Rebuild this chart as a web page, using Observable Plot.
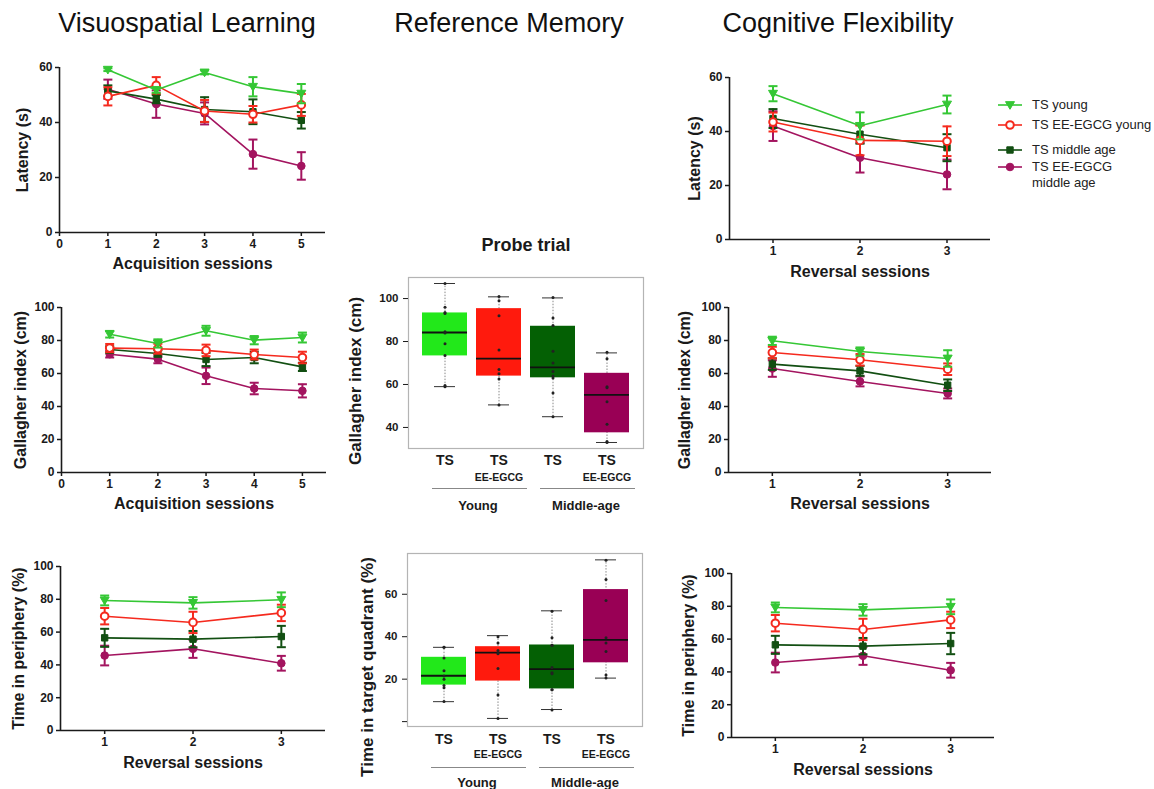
<!DOCTYPE html>
<html><head><meta charset="utf-8">
<script src="https://cdn.jsdelivr.net/npm/d3@7"></script>
<script src="https://cdn.jsdelivr.net/npm/@observablehq/plot@0.6"></script>
<style>
body{margin:0;background:#fff;font-family:"Liberation Sans",Arial,sans-serif;}
#root{position:relative;width:1154px;height:789px;overflow:hidden;background:#fff;}
.title{position:absolute;font-size:27px;line-height:27px;color:#111;transform:translateX(-50%);white-space:nowrap;}
.leg{position:absolute;font-size:13px;line-height:15px;color:#222;white-space:nowrap;}
</style></head><body><div id="root"></div>
<script>
// ---------- data ----------
const seriesNames = ["TS young", "TS EE-EGCG young", "TS middle age", "TS EE-EGCG middle age"];
const seriesColors = ["#35c735", "#f52a1e", "#124f12", "#a3145f"];
const acqSessions = [1, 2, 3, 4, 5];
const revSessions = [1, 2, 3];

// Visuospatial learning – latency (s), acquisition sessions
const latAcqMean = [[59.2, 51.8, 58.2, 53.0, 50.5], [49.5, 53.5, 44.2, 43.0, 46.4], [51.5, 48.5, 44.7, 43.9, 40.8], [52.1, 46.7, 43.3, 28.5, 24.2]];
const latAcqSem = [[0.5, 1.0, 0.7, 3.5, 3.5], [3.3, 3.0, 4.0, 3.0, 4.0], [2.0, 1.5, 4.5, 4.5, 3.0], [3.5, 5.0, 4.0, 5.3, 5.0]];
// Visuospatial learning – Gallagher index (cm)
const galAcqMean = [[83.8, 78.2, 85.9, 80.2, 81.8], [75.4, 75.0, 74.0, 71.5, 69.7], [74.5, 72.1, 68.5, 69.7, 64.0], [71.7, 68.7, 58.6, 50.9, 49.5]];
const galAcqSem = [[2.0, 2.5, 3.0, 2.5, 3.0], [2.5, 3.0, 3.5, 3.0, 3.5], [2.0, 2.0, 4.0, 3.5, 2.5], [2.0, 2.5, 5.0, 3.5, 4.0]];
// Time in periphery (%)
const perMean = [[79.3, 77.8, 79.7], [69.7, 65.9, 71.7], [56.5, 55.7, 57.3], [45.7, 49.8, 41.0]];
const perSem = [[3.0, 3.5, 4.5], [5.0, 6.5, 5.0], [5.5, 5.0, 6.5], [6.0, 5.5, 4.5]];
// Cognitive flexibility – latency (s)
const latRevMean = [[54.0, 42.1, 50.0], [43.5, 36.7, 36.4], [44.8, 39.0, 34.0], [42.0, 30.3, 24.1]];
const latRevSem = [[2.8, 5.0, 3.3], [3.5, 5.5, 5.5], [3.5, 3.5, 5.0], [5.5, 5.5, 5.5]];
// Cognitive flexibility – Gallagher index (cm)
const galRevMean = [[79.8, 73.3, 69.1], [72.7, 68.3, 62.6], [65.7, 61.6, 52.9], [63.0, 55.2, 47.9]];
const galRevSem = [[2.5, 2.5, 5.0], [3.5, 3.5, 3.5], [3.5, 3.0, 3.5], [5.0, 3.0, 3.0]];

// Reference memory – probe trial box plots
const boxGroups = ["TS young", "TS EE-EGCG young", "TS middle-age", "TS EE-EGCG middle-age"];
const boxColors = ["#22e81a", "#ff1a0d", "#046004", "#990055"];
const boxTopLabels = ["TS", "TS", "TS", "TS"];
const boxSubLabels = ["", "EE-EGCG", "", "EE-EGCG"];
const ageGroups = ["Young", "Middle-age"];

const galMin = [59.0, 50.5, 45.0, 33.0];
const galQ1 = [73.3, 63.9, 63.1, 37.5];
const galMed = [84.2, 72.0, 68.0, 55.2];
const galQ3 = [93.3, 95.3, 87.1, 65.2];
const galMax = [107.0, 100.8, 100.3, 74.7];
const galPoints = [[107, 96, 93.5, 93, 84.5, 84, 79, 73.5, 59.5, 59], [101, 99, 92, 76, 67, 65, 62.5, 50.5], [100.5, 91, 87.5, 75.5, 70, 66, 64, 63, 56, 45], [75, 72, 59, 58.5, 52, 41.5, 33.5, 33]];

const tqMin = [9.4, 1.5, 5.7, 20.5];
const tqQ1 = [17.2, 19.1, 15.4, 27.7];
const tqMed = [21.6, 32.5, 24.7, 38.5];
const tqQ3 = [30.3, 35.3, 36.1, 62.2];
const tqMax = [35.0, 40.5, 52.2, 76.2];
const tqPoints = [[35, 35, 30, 24, 21.5, 20, 17, 16, 9.5], [40, 37, 33.5, 32.5, 32, 25, 12.5, 1.5], [52, 39.5, 36, 36, 25.5, 23, 22.5, 15, 15, 5.5], [76, 67, 57, 39.5, 37, 33, 22, 20.5]];

// ---------- helpers ----------
const FONT = '"Liberation Sans", Arial, sans-serif';
const INK = "#1a1a1a";
const root = document.getElementById("root");
function place(node, left, top) {
  node.style.position = "absolute";
  node.style.left = left + "px";
  node.style.top = top + "px";
  root.appendChild(node);
}
const capSymbol = {draw(ctx, size) { const r = Math.sqrt(size / Math.PI); ctx.moveTo(-r, 0); ctx.lineTo(r, 0); }};
const triDown = {draw(ctx, size) { const r = Math.sqrt(size / Math.PI); ctx.moveTo(-r, -r * 0.75); ctx.lineTo(r, -r * 0.75); ctx.lineTo(0, r * 0.95); ctx.closePath(); }};
const seriesSymbols = [triDown, "circle", "square", "circle"];
const seriesFills = [seriesColors[0], "white", seriesColors[2], seriesColors[3]];
const seriesR = [4.5, 3.8, 3.6, 3.8];
const drawOrder = [3, 2, 1, 0];

function linePanel(c) {
  const rows = [];
  c.means.forEach((arr, i) => arr.forEach((m, j) => rows.push({s: i, x: c.sessions[j], m, lo: m - c.sems[i][j], hi: m + c.sems[i][j]})));
  const marks = [
    Plot.ruleY([c.yDomain[0]], {x1: c.xDomain[0], x2: c.xDomain[1], stroke: INK, strokeWidth: 1.6}),
    Plot.ruleX([c.xDomain[0]], {y1: c.yDomain[0], y2: c.yDomain[1], stroke: INK, strokeWidth: 1.6}),
    Plot.axisX({ticks: c.xTicks, tickSize: 4, tickPadding: 3, fontSize: 12, fontWeight: "bold", strokeWidth: 1.5, stroke: INK, fill: INK, tickFormat: d => String(d), label: null}),
    Plot.axisY({ticks: c.yTicks, tickSize: 4, tickPadding: 3, fontSize: 12, fontWeight: "bold", strokeWidth: 1.5, stroke: INK, fill: INK, tickFormat: d => String(d), label: null})
  ];
  for (const s of drawOrder) {
    const d = rows.filter(r => r.s === s);
    const col = seriesColors[s];
    marks.push(
      Plot.ruleX(d, {x: "x", y1: "lo", y2: "hi", stroke: col, strokeWidth: 2}),
      Plot.dot(d, {x: "x", y: "lo", symbol: capSymbol, r: 4.5, stroke: col, strokeWidth: 2, fill: "none"}),
      Plot.dot(d, {x: "x", y: "hi", symbol: capSymbol, r: 4.5, stroke: col, strokeWidth: 2, fill: "none"}),
      Plot.line(d, {x: "x", y: "m", stroke: col, strokeWidth: 1.6}),
      Plot.dot(d, {x: "x", y: "m", symbol: seriesSymbols[s], r: seriesR[s], fill: seriesFills[s], stroke: col, strokeWidth: s === 1 ? 2 : 1})
    );
  }
  marks.push(
    Plot.text([c.xLabel], {text: d => d, frameAnchor: "bottom", dy: c.xLabelDy, fontSize: 16, fontWeight: "bold", fill: INK, lineAnchor: "middle", textAnchor: "middle"}),
    Plot.text([c.yLabel], {text: d => d, frameAnchor: "left", rotate: -90, dx: c.yLabelDx, fontSize: 16, fontWeight: "bold", fill: INK, lineAnchor: "middle", textAnchor: "middle"})
  );
  const svg = Plot.plot({
    width: c.width, height: c.height,
    marginLeft: c.ml, marginRight: c.mr, marginTop: c.mt, marginBottom: c.mb,
    x: {domain: c.xDomain, axis: null},
    y: {domain: c.yDomain, axis: null},
    style: {fontFamily: FONT, background: "transparent", overflow: "visible"},
    marks
  });
  place(svg, c.left, c.top);
}

function boxPanel(c) {
  const boxes = boxGroups.map((g, i) => ({g, min: c.mins[i], q1: c.q1s[i], med: c.meds[i], q3: c.q3s[i], max: c.maxs[i], top: boxTopLabels[i], sub: boxSubLabels[i]}));
  const pts = c.points.flatMap((arr, i) => arr.map(v => ({g: boxGroups[i], v})));
  const ages = ageGroups.map((a, i) => ({a, first: boxGroups[2 * i], last: boxGroups[2 * i + 1]}));
  const marks = [
    Plot.frame({stroke: "#b4b4b4", strokeWidth: 1.2}),
    Plot.ruleX(boxes, {x: "g", y1: "min", y2: "max", stroke: "#888", strokeDasharray: "1.5,1.5", strokeWidth: 1}),
    Plot.tickY(boxes, {x: "g", y: "min", stroke: "#333", inset: 12}),
    Plot.tickY(boxes, {x: "g", y: "max", stroke: "#333", inset: 12}),
    Plot.barY(boxes, {x: "g", y1: "q1", y2: "q3", fill: "g"}),
    Plot.tickY(boxes, {x: "g", y: "med", stroke: "#111", strokeWidth: 1.8}),
    Plot.dot(pts, {x: "g", y: "v", r: 1.5, fill: "#222"}),
    Plot.axisY({ticks: c.yTicks, tickSize: 5, tickPadding: 5, fontSize: 11.5, fontWeight: "bold", fill: INK, stroke: INK, tickFormat: c.yTickFormat, label: null}),
    Plot.text(boxes, {x: "g", text: "top", frameAnchor: "bottom", dy: c.topDy, fontSize: 14, fontWeight: "bold", fill: INK, lineAnchor: "middle"}),
    Plot.text(boxes, {x: "g", text: "sub", frameAnchor: "bottom", dy: c.subDy, fontSize: 10.5, fontWeight: "bold", fill: INK, lineAnchor: "middle"}),
    Plot.ruleY(ages, {x1: "first", x2: "last", y: c.yDomain[0], dy: c.ruleDy, stroke: "#888", strokeWidth: 1, insetLeft: 10, insetRight: -6}),
    Plot.text(ages, {x: "first", text: "a", frameAnchor: "bottom", dx: 33, dy: c.ageDy, fontSize: 13, fontWeight: "bold", fill: INK, lineAnchor: "middle"}),
    Plot.text([c.yLabel], {text: d => d, frameAnchor: "left", rotate: -90, dx: c.yLabelDx, dy: c.yLabelDy, fontSize: 17, fontWeight: "bold", fill: INK, lineAnchor: "middle", textAnchor: "middle"})
  ];
  if (c.title) marks.push(Plot.text([c.title], {text: d => d, frameAnchor: "top", dy: c.titleDy, fontSize: 18, fontWeight: "bold", fill: INK, lineAnchor: "middle", textAnchor: "middle"}));
  const svg = Plot.plot({
    width: c.width, height: c.height,
    marginLeft: c.ml, marginRight: c.mr, marginTop: c.mt, marginBottom: c.mb,
    x: {type: "band", domain: boxGroups, paddingInner: 0.17, paddingOuter: 0.26, axis: null},
    y: {domain: c.yDomain, axis: null},
    color: {domain: boxGroups, range: boxColors},
    style: {fontFamily: FONT, background: "transparent", overflow: "visible"},
    marks
  });
  place(svg, c.left, c.top);
}

// ---------- titles ----------
[["Visuospatial Learning", 187], ["Reference Memory", 509], ["Cognitive Flexibility", 838]].forEach(([t, x]) => {
  const d = document.createElement("div");
  d.className = "title"; d.textContent = t;
  d.style.left = x + "px"; d.style.top = "10px";
  root.appendChild(d);
});

// ---------- left column ----------
linePanel({left: 0, top: 40, width: 335, height: 240, ml: 59, mr: 10, mt: 27, mb: 48,
  xDomain: [0, 5.5], xTicks: [0, 1, 2, 3, 4, 5], yDomain: [0, 60], yTicks: [0, 20, 40, 60],
  sessions: acqSessions, means: latAcqMean, sems: latAcqSem,
  xLabel: "Acquisition sessions", yLabel: "Latency (s)", xLabelDy: 31, yLabelDx: -37});
linePanel({left: 0, top: 285, width: 335, height: 240, ml: 61, mr: 9, mt: 22, mb: 53,
  xDomain: [0, 5.5], xTicks: [0, 1, 2, 3, 4, 5], yDomain: [0, 100], yTicks: [0, 20, 40, 60, 80, 100],
  sessions: acqSessions, means: galAcqMean, sems: galAcqSem,
  xLabel: "Acquisition sessions", yLabel: "Gallagher index (cm)", xLabelDy: 31, yLabelDx: -41});
linePanel({left: 0, top: 545, width: 335, height: 244, ml: 60, mr: 10, mt: 21, mb: 59,
  xDomain: [0.5, 3.5], xTicks: revSessions, yDomain: [0, 100], yTicks: [0, 20, 40, 60, 80, 100],
  sessions: revSessions, means: perMean, sems: perSem,
  xLabel: "Reversal sessions", yLabel: "Time in periphery (%)", xLabelDy: 32, yLabelDx: -42});

// ---------- right column ----------
linePanel({left: 670, top: 50, width: 330, height: 240, ml: 59, mr: 10, mt: 27, mb: 51,
  xDomain: [0.5, 3.5], xTicks: revSessions, yDomain: [0, 60], yTicks: [0, 20, 40, 60],
  sessions: revSessions, means: latRevMean, sems: latRevSem,
  xLabel: "Reversal sessions", yLabel: "Latency (s)", xLabelDy: 32, yLabelDx: -35});
linePanel({left: 670, top: 285, width: 330, height: 240, ml: 58, mr: 9, mt: 22, mb: 53,
  xDomain: [0.5, 3.5], xTicks: revSessions, yDomain: [0, 100], yTicks: [0, 20, 40, 60, 80, 100],
  sessions: revSessions, means: galRevMean, sems: galRevSem,
  xLabel: "Reversal sessions", yLabel: "Gallagher index (cm)", xLabelDy: 31, yLabelDx: -44});
linePanel({left: 670, top: 550, width: 330, height: 239, ml: 61, mr: 6, mt: 23, mb: 52,
  xDomain: [0.5, 3.5], xTicks: revSessions, yDomain: [0, 100], yTicks: [0, 20, 40, 60, 80, 100],
  sessions: revSessions, means: perMean, sems: perSem,
  xLabel: "Reversal sessions", yLabel: "Time in periphery (%)", xLabelDy: 32, yLabelDx: -43});

// ---------- centre column (box plots) ----------
boxPanel({left: 340, top: 230, width: 310, height: 290, ml: 68, mr: 7, mt: 47, mb: 72,
  yDomain: [30.2, 109.8], yTicks: [40, 60, 80, 100], yTickFormat: d => String(d),
  mins: galMin, q1s: galQ1, meds: galMed, q3s: galQ3, maxs: galMax, points: galPoints,
  yLabel: "Gallagher index (cm)", yLabelDx: -53, yLabelDy: 18,
  title: "Probe trial", titleDy: -32, topDy: 12, subDy: 29, ruleDy: 40, ageDy: 57});
boxPanel({left: 340, top: 520, width: 310, height: 269, ml: 67, mr: 8, mt: 33, mb: 63,
  yDomain: [-2.3, 79.2], yTicks: [0, 20, 40, 60], yTickFormat: d => (d === 0 ? "" : String(d)),
  mins: tqMin, q1s: tqQ1, meds: tqMed, q3s: tqQ3, maxs: tqMax, points: tqPoints,
  yLabel: "Time in target quadrant (%)", yLabelDx: -40, yLabelDy: 27,
  topDy: 13, subDy: 28, ruleDy: 41, ageDy: 56});

// ---------- legend ----------
const legendRows = [[0, 105, ["TS young"]], [1, 125, ["TS EE-EGCG young"]], [2, 150, ["TS middle age"]], [3, 167, ["TS EE-EGCG", "middle age"]]];
legendRows.forEach(([s, y, lines]) => {
  const svg = d3.create("svg").attr("width", 26).attr("height", 14);
  svg.append("line").attr("x1", 1).attr("x2", 25).attr("y1", 7).attr("y2", 7).attr("stroke", seriesColors[s]).attr("stroke-width", 1.6);
  const sym = typeof seriesSymbols[s] === "string" ? (seriesSymbols[s] === "square" ? d3.symbolSquare : d3.symbolCircle) : seriesSymbols[s];
  svg.append("path").attr("transform", "translate(13,7)")
    .attr("d", d3.symbol(sym, seriesR[s] * seriesR[s] * Math.PI)())
    .attr("fill", seriesFills[s]).attr("stroke", seriesColors[s]).attr("stroke-width", s === 1 ? 2 : 1);
  place(svg.node(), 997, y - 7);
  lines.forEach((t, k) => {
    const d = document.createElement("div");
    d.className = "leg"; d.textContent = t;
    d.style.left = "1032px"; d.style.top = (y - 8 + k * 16) + "px";
    root.appendChild(d);
  });
});
</script></body></html>
